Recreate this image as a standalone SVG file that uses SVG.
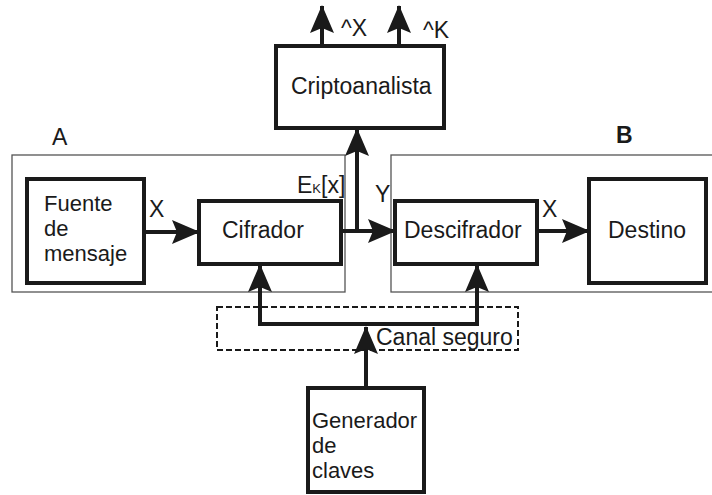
<svg xmlns="http://www.w3.org/2000/svg" width="712" height="495" viewBox="0 0 712 495">
  <style>
    text { font-family: "Liberation Sans", Arial, sans-serif; font-size: 23px; fill: #1a1a1a; }
    .multi { font-size: 22px; }
    .node { fill: #ffffff; stroke: #1a1a1a; stroke-width: 4; }
    .region { fill: none; stroke: #555555; stroke-width: 1.3; }
    .wire { fill: none; stroke: #1a1a1a; stroke-width: 4; }
    .arrow { fill: none; stroke: #1a1a1a; stroke-width: 4; marker-end: url(#head); }
    .dashed { fill: none; stroke: #1a1a1a; stroke-width: 2; stroke-dasharray: 6 3; }
    .bold { font-weight: bold; }
    .sub { font-size: 13px; }
  </style>
  <defs>
    <marker id="head" viewBox="0 0 28 24" refX="27" refY="12" markerWidth="28" markerHeight="24" markerUnits="userSpaceOnUse" orient="auto">
      <path d="M0,0 L28,12 L0,24 L5,12 Z" fill="#1a1a1a"/>
    </marker>
  </defs>

  <rect width="712" height="495" fill="#ffffff"/>

  <!-- sender and receiver regions -->
  <g id="region-a">
    <rect class="region" x="12" y="155" width="333" height="137"/>
    <text x="52" y="145">A</text>
  </g>
  <g id="region-b">
    <rect class="region" x="391" y="155" width="330" height="137"/>
    <text class="bold" x="616" y="143">B</text>
  </g>

  <!-- secure channel -->
  <g id="canal-seguro">
    <rect class="dashed" x="217" y="307" width="301" height="43"/>
    <text x="376" y="345">Canal seguro</text>
  </g>

  <!-- connectors -->
  <g id="connectors">
    <path class="arrow" d="M146,232 L199,232"/>
    <path class="wire" d="M341,231 L357,231"/>
    <path class="arrow" d="M357,231 L357,129"/>
    <path class="arrow" d="M357,231 L395,231"/>
    <path class="arrow" d="M537,231 L589,231"/>
    <path class="arrow" d="M322,46 L322,6"/>
    <path class="arrow" d="M399,46 L399,6"/>
    <path class="wire" d="M260,324 L477,324"/>
    <path class="arrow" d="M260,326 L260,265"/>
    <path class="arrow" d="M477,326 L477,265"/>
    <path class="arrow" d="M366,388 L366,327"/>
    <text x="149" y="217">X</text>
    <text x="297" y="193">E<tspan class="sub">K</tspan>[x]</text>
    <text x="375" y="202">Y</text>
    <text x="542" y="217">X</text>
    <text x="341" y="36">^X</text>
    <text x="423" y="38">^K</text>
  </g>

  <!-- nodes -->
  <g id="criptoanalista">
    <rect class="node" x="276" y="46" width="168" height="82"/>
    <text x="291" y="94">Criptoanalista</text>
  </g>
  <g id="fuente">
    <rect class="node" x="27" y="179" width="117" height="104"/>
    <text class="multi" x="44" y="211">Fuente</text>
    <text class="multi" x="44" y="236">de</text>
    <text class="multi" x="44" y="261">mensaje</text>
  </g>
  <g id="cifrador">
    <rect class="node" x="199" y="201" width="142" height="63"/>
    <text x="222" y="238">Cifrador</text>
  </g>
  <g id="descifrador">
    <rect class="node" x="395" y="201" width="142" height="63"/>
    <text x="404" y="238">Descifrador</text>
  </g>
  <g id="destino">
    <rect class="node" x="589" y="179" width="117" height="104"/>
    <text x="608" y="238">Destino</text>
  </g>
  <g id="generador">
    <rect class="node" x="308" y="388" width="116" height="104"/>
    <text class="multi" x="312" y="428">Generador</text>
    <text class="multi" x="312" y="453">de</text>
    <text class="multi" x="312" y="478">claves</text>
  </g>
</svg>
